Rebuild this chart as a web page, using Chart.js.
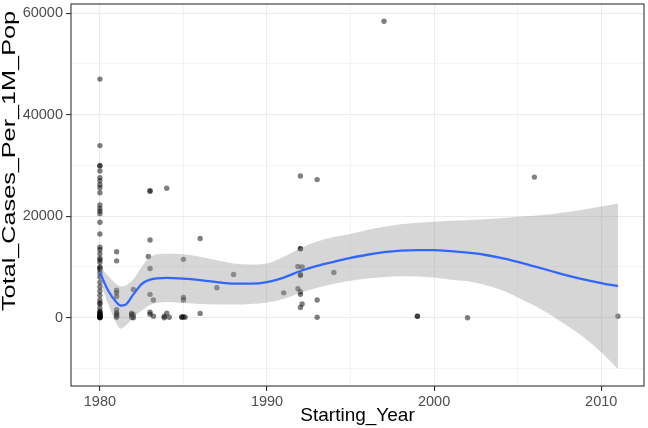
<!DOCTYPE html>
<html>
<head>
<meta charset="utf-8">
<script src="https://cdn.jsdelivr.net/npm/chart.js@4.4.0/dist/chart.umd.min.js"></script>
<style>
  html, body { margin: 0; padding: 0; background: #fff; }
  #wrap { width: 648px; height: 428px; }
</style>
</head>
<body>
<div id="wrap"><canvas id="cases_chart"></canvas></div>
<script>
// observed points, grouped by starting year
var groupYears = [1980, 1981, 1981.9, 1982, 1982.9, 1983, 1983.2, 1983.85, 1984, 1984.15,
                  1984.9, 1985, 1985.1, 1986, 1987, 1988, 1991, 1991.85, 1992, 1992.1,
                  1993, 1994, 1997, 1999, 2002, 2006, 2011];
var groupCases = [
    [47000, 33900, 30000, 29900, 28900, 27600, 27000, 26200, 25600, 24600, 22200, 21500,
     21000, 20500, 18800, 16500, 13900, 13400, 12600, 11700, 11400, 10900, 10000, 9800,
     9500, 8800, 8000, 7000, 6100, 5200, 4400, 3500, 2900, 2700, 1900, 1300, 1100, 1000,
     800, 700, 600, 500, 400, 300, 250, 200, 150, 100, 50, 0],
    [13000, 11200, 5400, 4900, 4200, 1600, 1000, 800, 600, 300, 100],
    [900, 700, 500, 100],
    [5550, 600, 0],
    [12060],
    [25000, 24900, 15300, 9700, 4600, 1100, 700],
    [3500, 300],
    [0, 300],
    [25500, 900],
    [100],
    [100, 150],
    [11500, 4000, 3500, 200],
    [100],
    [15600, 850],
    [5900],
    [8500],
    [4900],
    [10100, 5700],
    [27900, 13600, 13600, 8500, 8300, 5100, 4600, 2000],
    [10000, 2700],
    [27200, 3500, 100],
    [8900],
    [58400],
    [300, 300],
    [0],
    [27700],
    [300]
];

// loess fit and its confidence band
var fitYears = [1980, 1980.5, 1981, 1981.25, 1981.5, 1982, 1982.5, 1983, 1984, 1985, 1986,
                1987, 1988, 1989, 1990, 1991, 1992, 1993, 1994, 1995, 1996, 1997, 1998,
                1999, 2000, 2001, 2002, 2003, 2004, 2005, 2006, 2007, 2008, 2009, 2010, 2011];
var fitCases = [8900, 5300, 3000, 2400, 2500, 4600, 6600, 7500, 7850, 7700, 7400,
                7000, 6700, 6700, 7000, 7900, 9200, 10200, 11000, 11800, 12400, 12900, 13200,
                13300, 13300, 13100, 12800, 12400, 11800, 11000, 10100, 9200, 8300, 7500, 6800, 6200];
var bandUpper = [10200, 8200, 6600, 6200, 6300, 7600, 10000, 12000, 12600, 12500, 12000,
                 11300, 10700, 10500, 10700, 12000, 13700, 15000, 15900, 16500, 17300, 17900, 18400,
                 18700, 18900, 19100, 19200, 19400, 19600, 19900, 20100, 20400, 20800, 21300, 21900, 22500];
var bandLower = [7300, 2600, -1200, -2150, -1700, 0, 1400, 2500, 3100, 2900, 2700,
                 2600, 2600, 2700, 3000, 3700, 4900, 5900, 6700, 7300, 7700, 8000, 8150,
                 8100, 7900, 7500, 7200, 6500, 5500, 4000, 2400, 500, -1700, -4000, -6800, -10100];

// axes
var xRange = [1978.27, 2012.56];
var yRange = [-13450, 61790];
var xMajorTicks = [1980, 1990, 2000, 2010];
var xMinorTicks = [1985, 1995, 2005];
var yMajorTicks = [0, 20000, 40000, 60000];
var yMinorTicks = [-10000, 10000, 30000, 50000];
var xTitle = 'Starting_Year';
var yTitle = 'Total_Cases_Per_1M_Pop';

var fontFamily = '"Liberation Sans", Arial, sans-serif';

function pairs(xs, ys) {
    return xs.map(function (x, i) { return {x: x, y: ys[i]}; });
}

var scatterData = [];
groupYears.forEach(function (yr, i) {
    groupCases[i].forEach(function (v) { scatterData.push({x: yr, y: v}); });
});

function gridSetup(major) {
    return {
        color: '#ebebeb',
        lineWidth: function (c) { return major.indexOf(c.tick.value) >= 0 ? 1.1 : 0.55; },
        tickColor: function (c) { return major.indexOf(c.tick.value) >= 0 ? '#333333' : 'rgba(0,0,0,0)'; },
        tickLength: 5,
        tickWidth: 1.1
    };
}

var panelBorder = {
    id: 'panelBorder',
    afterDraw: function (chart) {
        var a = chart.chartArea, ctx = chart.ctx;
        ctx.save();
        ctx.strokeStyle = '#333333';
        ctx.lineWidth = 1.1;
        ctx.strokeRect(a.left, a.top, a.right - a.left, a.bottom - a.top);
        ctx.restore();
    }
};

var yAxisTitle = {
    id: 'yAxisTitle',
    afterDraw: function (chart) {
        var ctx = chart.ctx;
        ctx.save();
        ctx.translate(10.5, 161);
        ctx.rotate(-Math.PI / 2);
        ctx.font = '18px ' + fontFamily;
        var w = ctx.measureText(yTitle).width;
        ctx.scale(300 / w, 1);
        ctx.fillStyle = '#000000';
        ctx.textAlign = 'center';
        ctx.textBaseline = 'middle';
        ctx.fillText(yTitle, 0, 0);
        ctx.restore();
    }
};

var ctx = document.getElementById('cases_chart').getContext('2d');
var myChart = new Chart(ctx, {
    type: 'scatter',
    data: {
        datasets: [{
            type: 'line',
            data: pairs(fitYears, fitCases),
            borderColor: '#3366FF',
            borderWidth: 2.3,
            pointRadius: 0,
            cubicInterpolationMode: 'monotone',
            fill: false
        }, {
            type: 'line',
            data: pairs(fitYears, bandUpper),
            borderWidth: 0,
            borderColor: 'rgba(0,0,0,0)',
            backgroundColor: 'rgba(153,153,153,0.4)',
            pointRadius: 0,
            cubicInterpolationMode: 'monotone',
            fill: '+1'
        }, {
            type: 'line',
            data: pairs(fitYears, bandLower),
            borderWidth: 0,
            borderColor: 'rgba(0,0,0,0)',
            pointRadius: 0,
            cubicInterpolationMode: 'monotone',
            fill: false
        }, {
            type: 'scatter',
            data: scatterData,
            backgroundColor: 'rgba(0,0,0,0.5)',
            borderWidth: 0,
            pointRadius: 2.7
        }]
    },
    options: {
        responsive: true,
        maintainAspectRatio: false,
        animation: false,
        layout: { padding: { top: 1, right: 1, left: 0, bottom: 0 } },
        scales: {
            x: {
                type: 'linear',
                min: xRange[0],
                max: xRange[1],
                afterBuildTicks: function (s) {
                    s.ticks = xMajorTicks.concat(xMinorTicks).sort().map(function (v) { return {value: v}; });
                },
                afterFit: function (s) {
                    s.height = 42;
                    s.paddingLeft = 0;
                    s.paddingRight = 0;
                },
                ticks: {
                    autoSkip: false,
                    maxRotation: 0,
                    padding: 2,
                    color: '#4d4d4d',
                    font: { family: fontFamily, size: 14.5 },
                    callback: function (v) { return xMajorTicks.indexOf(v) >= 0 ? String(v) : ''; }
                },
                grid: gridSetup(xMajorTicks),
                border: { display: false },
                title: {
                    display: true,
                    text: xTitle,
                    color: '#000000',
                    font: { family: fontFamily, size: 19 },
                    padding: { top: 0, bottom: 1 }
                }
            },
            y: {
                type: 'linear',
                min: yRange[0],
                max: yRange[1],
                afterBuildTicks: function (s) {
                    s.ticks = yMajorTicks.concat(yMinorTicks).sort(function (a, b) { return a - b; })
                        .map(function (v) { return {value: v}; });
                },
                afterFit: function (s) {
                    s.width = 71;
                    s.paddingTop = 0;
                    s.paddingBottom = 0;
                },
                ticks: {
                    autoSkip: false,
                    padding: 3,
                    color: '#4d4d4d',
                    font: { family: fontFamily, size: 14.5 },
                    callback: function (v) { return yMajorTicks.indexOf(v) >= 0 ? String(v) : ''; }
                },
                grid: gridSetup(yMajorTicks),
                border: { display: false }
            }
        },
        plugins: {
            legend: { display: false },
            tooltip: { enabled: false }
        }
    },
    plugins: [panelBorder, yAxisTitle]
});
</script>
</body>
</html>
